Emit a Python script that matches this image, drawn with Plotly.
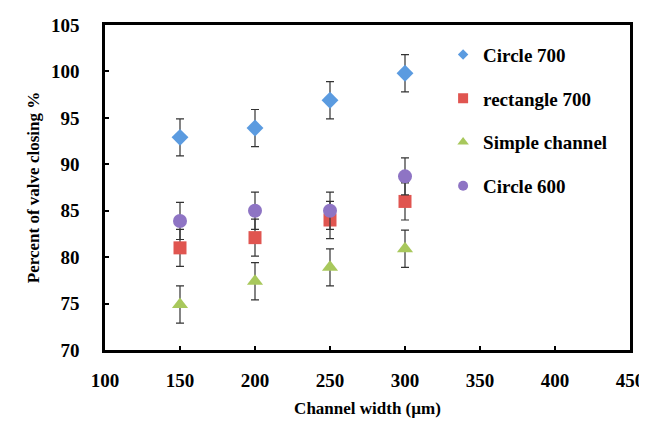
import plotly.graph_objects as go

widths = [150, 200, 250, 300]
circle700 = [92.9, 93.9, 96.9, 99.8]
rect700 = [81.0, 82.1, 84.0, 86.0]
simple = [74.9, 77.4, 78.9, 80.9]
circle600 = [83.9, 85.0, 85.0, 88.7]
err = [2, 2, 2, 2]

names = ["Circle 700", "rectangle 700", "Simple channel", "Circle 600"]
series = [circle700, rect700, simple, circle600]
colors = ["#5b9be0", "#e05550", "#a8c85c", "#8e74c4"]
symbols = ["diamond", "square", "triangle-up", "circle"]
sizes = [13, 13, 14, 14]
legend_sizes = [8, 10, 10, 10]

fig = go.Figure()
for i, (n, s) in enumerate(zip(names, series)):
    fig.add_trace(go.Scatter(
        x=widths, y=s, name=n, mode="markers", legendgroup=n, showlegend=False,
        marker=dict(symbol=symbols[i], size=sizes[i], color=colors[i],
                    line=dict(width=0)),
        error_y=dict(type="data", array=err, color="#333333", thickness=1.2, width=4),
    ))
    # legend entry with the small marker of the reference legend
    fig.add_trace(go.Scatter(
        x=[None], y=[None], name=n, mode="markers", legendgroup=n, showlegend=True,
        marker=dict(symbol=symbols[i], size=legend_sizes[i], color=colors[i],
                    line=dict(width=0)),
    ))

font = "Liberation Serif, Times New Roman, serif"
fig.update_layout(
    width=639, height=410,
    margin=dict(l=97, r=17, t=17, b=68, autoexpand=False),
    paper_bgcolor="white", plot_bgcolor="white",
    font=dict(family=font, size=15, color="black"),
    showlegend=True,
    legend=dict(x=0.644, y=0.967, xanchor="left", yanchor="top",
                bgcolor="rgba(0,0,0,0)", tracegroupgap=16,
                font=dict(family=font, size=19, color="black", weight="bold"),
                itemsizing="trace", itemwidth=30),
    xaxis=dict(range=[100, 450], dtick=50, tick0=100, showgrid=False, zeroline=False,
               automargin=False, ticklabeloverflow="allow",
               showline=True, linecolor="black", linewidth=2.5, mirror=True,
               ticks="inside", ticklen=4, tickwidth=2, tickcolor="black",
               ticklabelstandoff=11,
               tickfont=dict(family=font, size=19, weight="bold"),
               title=dict(text="Channel width (µm)", standoff=24,
                          font=dict(family=font, size=17, weight="bold"))),
    yaxis=dict(range=[70, 105], dtick=5, showgrid=False, zeroline=False,
               automargin=False, ticklabeloverflow="allow",
               showline=True, linecolor="black", linewidth=2.5, mirror=True,
               ticks="inside", ticklen=4, tickwidth=2, tickcolor="black",
               ticklabelstandoff=19,
               tickfont=dict(family=font, size=19, weight="bold"),
               title=dict(text="Percent of valve closing %", standoff=8,
                          font=dict(family=font, size=17, weight="bold"))),
)

fig.write_html("out.html")
